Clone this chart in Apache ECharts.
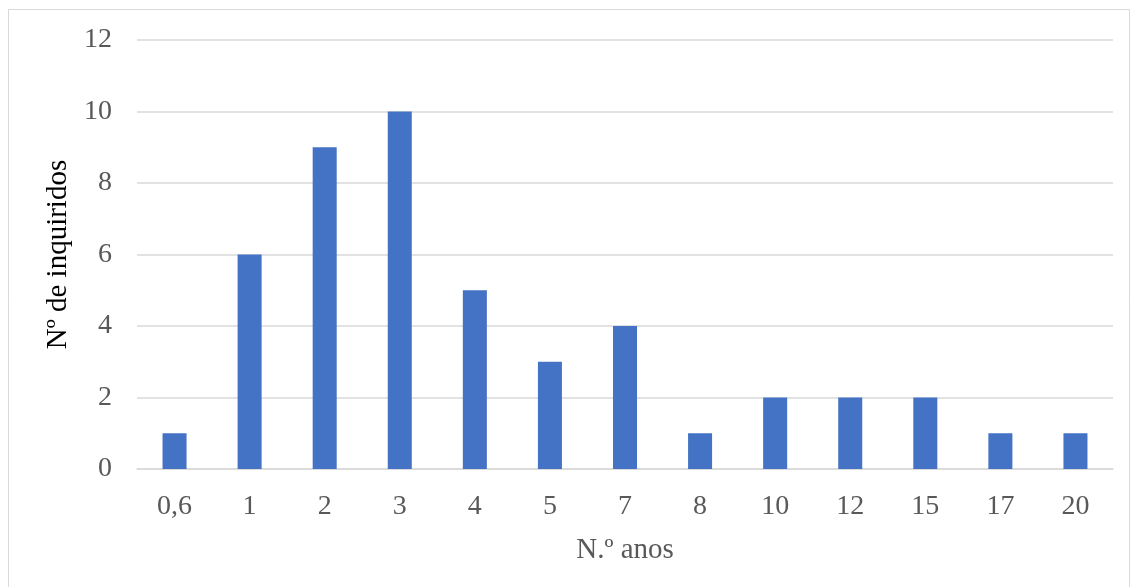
<!DOCTYPE html>
<html><head><meta charset="utf-8">
<script src="https://cdn.jsdelivr.net/npm/echarts@6/dist/echarts.min.js"></script>
<style>html,body{margin:0;padding:0;background:#fff}#c{width:1131px;height:587px}</style>
</head><body><div id="c"></div>
<script>
const categories = ['0,6','1','2','3','4','5','7','8','10','12','15','17','20'];
const values = [1,6,9,10,5,3,4,1,2,2,2,1,1];
const yTicks = [0,2,4,6,8,10,12];
const xTitle = 'N.º anos';
const yTitle = 'Nº de inquiridos';

const font = '"Liberation Serif", "Times New Roman", serif';
const chart = echarts.init(document.getElementById('c'));
chart.setOption({
  animation: false,
  backgroundColor: '#fff',
  graphic: [{type:'rect', shape:{x:8.5,y:9.5,width:1121,height:600}, style:{fill:'none',stroke:'#d9d9d9',lineWidth:1}}],
  grid: {left:137, right:18, top:40, bottom:118},
  xAxis: {
    type:'category', data: categories,
    name: xTitle, nameLocation:'middle', nameGap:67,
    nameTextStyle:{fontFamily:font,fontSize:29,color:'#595959'},
    axisLine:{lineStyle:{color:'#d9d9d9',width:1.5}},
    axisTick:{show:false},
    axisLabel:{fontFamily:font,fontSize:28,color:'#595959',margin:24}
  },
  yAxis: {
    type:'value', min:yTicks[0], max:yTicks[yTicks.length-1], interval:2,
    name: yTitle, nameLocation:'middle', nameGap:61, nameRotate:90,
    nameTextStyle:{fontFamily:font,fontSize:29,color:'#000'},
    axisLine:{show:false}, axisTick:{show:false},
    splitLine:{lineStyle:{color:'#d9d9d9',width:1.5}},
    axisLabel:{fontFamily:font,fontSize:28,color:'#595959',margin:25}
  },
  series: [{type:'bar', data: values, barWidth:'32%', itemStyle:{color:'#4472c4'}}]
});
</script></body></html>
